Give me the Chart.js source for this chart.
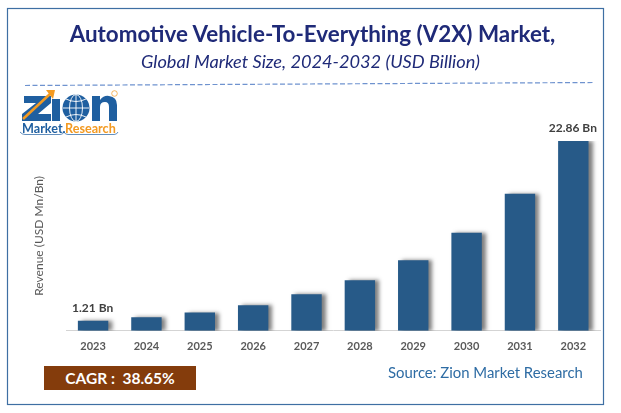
<!DOCTYPE html>
<html><head><meta charset="utf-8">
<script src="https://cdn.jsdelivr.net/npm/chart.js@4"></script>
<style>
html,body{margin:0;padding:0;background:#fff;width:621px;height:413px;overflow:hidden}
#wrap{position:relative;width:621px;height:413px;font-family:Lato,sans-serif}
canvas{position:absolute;left:0;top:0}
.t{position:absolute;white-space:nowrap}
#title{left:0;width:625px;text-align:center;top:20px;font-size:22.4px;font-weight:700;color:#1f2a78}
#sub{left:0;width:621px;text-align:center;top:50px;font-size:18.2px;font-style:italic;color:#1f2a78}
#cagr{left:44px;top:366px;width:152px;height:24px;background:#843c0c;color:#fff;font-weight:700;font-size:15.5px;line-height:24px;text-align:center}
#src{left:388px;top:363px;font-size:14.9px;color:#2e6ca4}
#logo{position:absolute;left:0;top:0}
</style></head><body>
<div id="wrap">
<canvas id="c" width="621" height="413"></canvas>
<div class="t" id="title">Automotive Vehicle-To-Everything (V2X) Market,</div>
<div class="t" id="sub">Global Market Size, 2024-2032 (USD Billion)</div>
<div class="t" id="cagr">CAGR :&nbsp; 38.65%</div>
<div class="t" id="src">Source: Zion Market Research</div>
<svg id="logo" width="621" height="413" xmlns="http://www.w3.org/2000/svg">
<rect x="7.5" y="8.5" width="596" height="396" fill="none" stroke="#3e6fa3" stroke-width="1.2"/>
<line x1="25" y1="85.5" x2="594" y2="82.5" stroke="#6f93cf" stroke-width="1.2" stroke-dasharray="5 2.5"/>
<path d="M24 96H51V103L38 114H51V121H22V114L36 103H24Z" fill="#1f5fa0"/>
<path d="M23 119L50 94" stroke="#f39a22" stroke-width="2.6" fill="none"/>
<path d="M46 90L55 90L53 99Z" fill="#f39a22"/>
<rect x="52" y="99" width="8" height="22" fill="#1f5fa0"/>
<circle cx="76" cy="108" r="13.5" fill="#1f5fa0"/>
<path d="M63 108H89M76 95V121M66 99Q76 104 86 99M66 117Q76 112 86 117" stroke="#fff" stroke-width=".9" fill="none"/>
<ellipse cx="76" cy="108" rx="6.5" ry="13.5" stroke="#fff" stroke-width=".9" fill="none"/>
<path d="M92 121V96H100V100Q104 95 109 96Q117 97 117 105V121H109V107Q109 102 105 102Q100 102 100 107V121Z" fill="#1f5fa0"/>
<circle cx="114.5" cy="93.5" r="2.8" fill="none" stroke="#f39a22" stroke-width="0.7"/>
<text x="22" y="133" font-family="Lato" font-weight="700" font-size="12.6" fill="#1f5fa0">Market.</text>
<text x="65" y="133" font-family="Lato" font-weight="700" font-size="12.6" fill="#f39a22">Research</text>
<path d="M20 132Q22 134.5 25 134.5H60Q63 134.5 64 132Q65 134.5 68 134.5H114Q117 134.5 118 132" stroke="#1f5fa0" stroke-width="0.7" fill="none"/>
</svg>
</div>
<script>
const categories=["2023","2024","2025","2026","2027","2028","2029","2030","2031","2032"];
const values=[1.21,1.62,2.2,3.07,4.4,6.1,8.5,11.8,16.5,22.86];
const valueLabels=["1.21 Bn","","","","","","","","","22.86 Bn"];
const yTitle="Revenue (USD Mn/Bn)";
const shadow={id:"shadow",
 beforeDatasetDraw(c){const x=c.ctx;x.save();x.shadowColor="rgba(0,0,0,.5)";x.shadowBlur=4;x.shadowOffsetX=4;x.shadowOffsetY=0;},
 afterDatasetDraw(c){c.ctx.restore();},
 afterDraw(c){const x=c.ctx,m=c.getDatasetMeta(0);x.save();x.font="700 12px Lato";x.fillStyle="#404040";x.textAlign="center";x.textBaseline="alphabetic";
  m.data.forEach((b,i)=>{if(valueLabels[i])x.fillText(valueLabels[i],b.x-0.5,b.y-9);});x.restore();}};
new Chart(document.getElementById("c"),{type:"bar",
 data:{labels:categories,datasets:[{data:values,backgroundColor:"#275a88",barPercentage:.57,categoryPercentage:1}]},
 plugins:[shadow],
 options:{responsive:false,animation:false,
  layout:{padding:{left:32,right:21,top:141,bottom:51}},
  plugins:{legend:{display:false},tooltip:{enabled:false}},
  scales:{
   x:{grid:{display:false,drawTicks:false},border:{color:"#d4d4d4",width:1},
      ticks:{color:"#595959",font:{family:"Lato",size:11,weight:"700"},padding:9,maxRotation:0}},
   y:{min:0,max:22.86,display:true,grid:{display:false,drawTicks:false},border:{display:false},
      ticks:{display:false},
      title:{display:true,text:yTitle,color:"#595959",font:{family:"Lato",size:12},padding:{top:0,bottom:20}}}
  }}});
</script>
</body></html>
